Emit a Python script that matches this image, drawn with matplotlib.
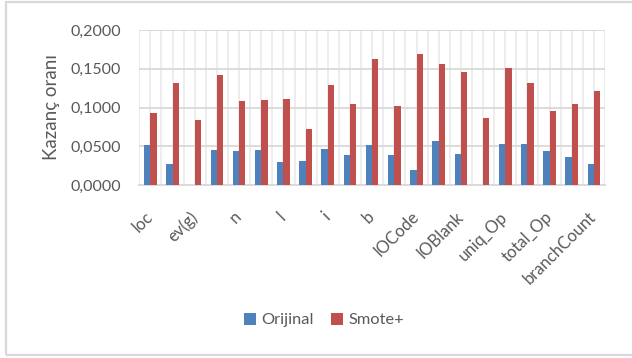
import matplotlib
matplotlib.use("Agg")
import matplotlib.pyplot as plt
from matplotlib.patches import Rectangle
import numpy as np

# Gain ratio per software metric, original data vs. SMOTE+ oversampled data
categories = ["loc", "v(g)", "ev(g)", "iv(g)", "n", "v", "l", "d", "i", "e", "b", "t",
              "lOCode", "lOComment", "lOBlank", "lOCodeAndComment", "uniq_Op",
              "uniq_Opnd", "total_Op", "total_Opnd", "branchCount"]
orijinal = [0.0512, 0.0275, 0.0, 0.0452, 0.0443, 0.0452, 0.0297, 0.0310, 0.0460, 0.0387,
            0.0516, 0.0387, 0.0194, 0.0572, 0.0400, 0.0, 0.0529, 0.0525, 0.0434, 0.0361,
            0.0275]
smote_plus = [0.0925, 0.1316, 0.0839, 0.1415, 0.1080, 0.1097, 0.1105, 0.0718, 0.1290,
              0.1041, 0.1622, 0.1019, 0.1686, 0.1561, 0.1458, 0.0860, 0.1510, 0.1312,
              0.0955, 0.1041, 0.1213]
y_ticks = [0.0, 0.05, 0.10, 0.15, 0.20]
series_names = ["Orijinal", "Smote+"]

BLUE = "#4F81BD"
RED = "#C0504D"
TEXT = "#595959"
GRID = "#D9D9D9"

plt.rcParams["font.family"] = ["Lato", "DejaVu Sans"]

fig = plt.figure(figsize=(6.32, 3.58), dpi=100)
W, H = 632, 358
ax = fig.add_axes([139.3 / W, 1 - 185 / H, (605 - 139.3) / W, (185 - 30) / H])

x = np.arange(len(categories))
bw = 0.285
ax.bar(x - bw / 2, orijinal, width=bw, color=BLUE, label=series_names[0], zorder=3)
ax.bar(x + bw / 2, smote_plus, width=bw, color=RED, label=series_names[1], zorder=3)

ax.set_xlim(-0.5, len(categories) - 0.5)
ax.set_ylim(0, 0.2)

# horizontal gridlines
ax.set_yticks(y_ticks)
ax.set_yticklabels([f"{v:.4f}".replace(".", ",") for v in y_ticks])
ax.yaxis.grid(True, color=GRID, linewidth=1.3, zorder=0)
# vertical gridlines at category centres and boundaries
for gx in np.arange(-0.5, len(categories), 0.5):
    ax.axvline(gx, color="#EDEDED", linewidth=1.4, zorder=0)

ax.set_xticks(x[::2])
ax.set_xticklabels(categories[::2], rotation=45, ha="right", va="center",
                   rotation_mode="anchor")
ax.tick_params(axis="x", length=0, pad=21, labelsize=12, labelcolor=TEXT)
ax.tick_params(axis="y", length=0, pad=13, labelsize=11.5, labelcolor=TEXT)

for side in ["top", "right", "left"]:
    ax.spines[side].set_visible(False)
ax.spines["bottom"].set_color(GRID)
ax.spines["bottom"].set_linewidth(1.3)

fig.text(52 / W, 1 - 107 / H, "Kazanç oranı", rotation=90, ha="center", va="center",
         fontsize=13.5, color=TEXT)

leg = fig.legend(loc="center", bbox_to_anchor=(324 / W, 1 - 320 / H), ncol=2,
                 frameon=False, fontsize=11.8, handlelength=0.75, handleheight=0.75,
                 handletextpad=0.35, columnspacing=1.0)
for t in leg.get_texts():
    t.set_color(TEXT)

# chart area border
fig.add_artist(Rectangle((5.5 / W, 1 - 355 / H), (640 - 5.5) / W, (355 - 1.5) / H,
                         transform=fig.transFigure, fill=False, edgecolor=GRID,
                         linewidth=1.6))

fig.savefig("out.png", dpi=100)
